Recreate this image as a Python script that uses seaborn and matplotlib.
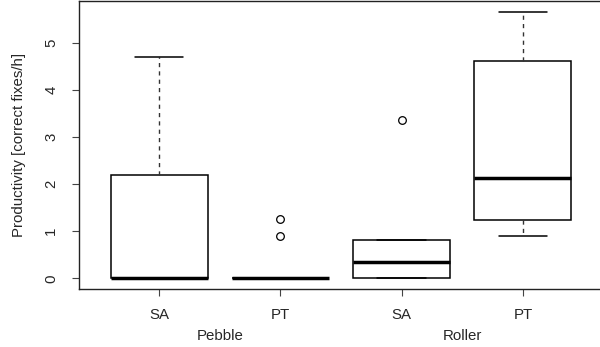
import pandas as pd
import numpy as np

import matplotlib
matplotlib.use("Agg")
import matplotlib.pyplot as plt
import seaborn as sns

# valores (productividad por sesión)
pebble_sa = [0, 0, 0, 0, 0, 0.5, 2.19, 3.0, 4.70]
pebble_pt = [0, 0, 0, 0, 0, 0, 0, 0.89, 1.27]
roller_sa = [0, 0, 0, 0.2, 0.35, 0.6, 0.82, 0.82, 3.35]
roller_pt = [0.89, 1.0, 1.23, 1.6, 2.125, 3.5, 4.62, 5.2, 5.66]

groups = ["Pebble SA", "Pebble PT", "Roller SA", "Roller PT"]
tick_labels = ["SA", "PT", "SA", "PT"]
tools = ["Pebble", "Roller"]

df = pd.DataFrame({
    "grupo": np.repeat(groups, [len(pebble_sa), len(pebble_pt), len(roller_sa), len(roller_pt)]),
    "valor": pebble_sa + pebble_pt + roller_sa + roller_pt,
})

sns.set_style("ticks")
plt.rcParams["font.family"] = ["Liberation Sans", "DejaVu Sans"]

fig = plt.figure(figsize=(6, 3.47), dpi=100)
ax = fig.add_axes([79 / 600, 1 - 289 / 347, 524 / 600, 288 / 347])

sns.boxplot(data=df, x="grupo", y="valor", order=groups, ax=ax, width=0.8,
            color="white", linecolor="black", linewidth=1.1, whis=1.5,
            medianprops=dict(color="black", linewidth=2.5),
            whiskerprops=dict(color="#333333", linestyle=(0, (3, 3)), linewidth=1),
            capprops=dict(color="black", linewidth=1.1),
            flierprops=dict(marker="o", markerfacecolor="none", markeredgecolor="black",
                            markersize=5.5, markeredgewidth=0.9))

ax.set_xlim(-0.66, 3.66)
ax.set_ylim(-0.226, 5.886)
ax.set_yticks([0, 1, 2, 3, 4, 5])
ax.set_xticks(range(4))
ax.set_xticklabels(tick_labels)

for s in ax.spines.values():
    s.set_visible(True)
    s.set_color("#222222")
    s.set_linewidth(1)

ax.tick_params(axis="both", length=5, width=0.8, color="#444444", labelsize=10.8)
ax.tick_params(axis="x", pad=9)
ax.tick_params(axis="y", labelrotation=90, pad=10)
for lab in ax.get_yticklabels():
    lab.set_va("center")

ax.set_xlabel("")
ax.set_ylabel("Productivity [correct fixes/h]", fontsize=10.8, labelpad=13)

# etiquetas de grupo debajo de los ticks
for i, t in enumerate(tools):
    ax.text(2 * i + 0.5, -0.163, t, transform=ax.get_xaxis_transform(),
            ha="center", va="center", fontsize=10.8)

plt.savefig("out.png", dpi=100)
